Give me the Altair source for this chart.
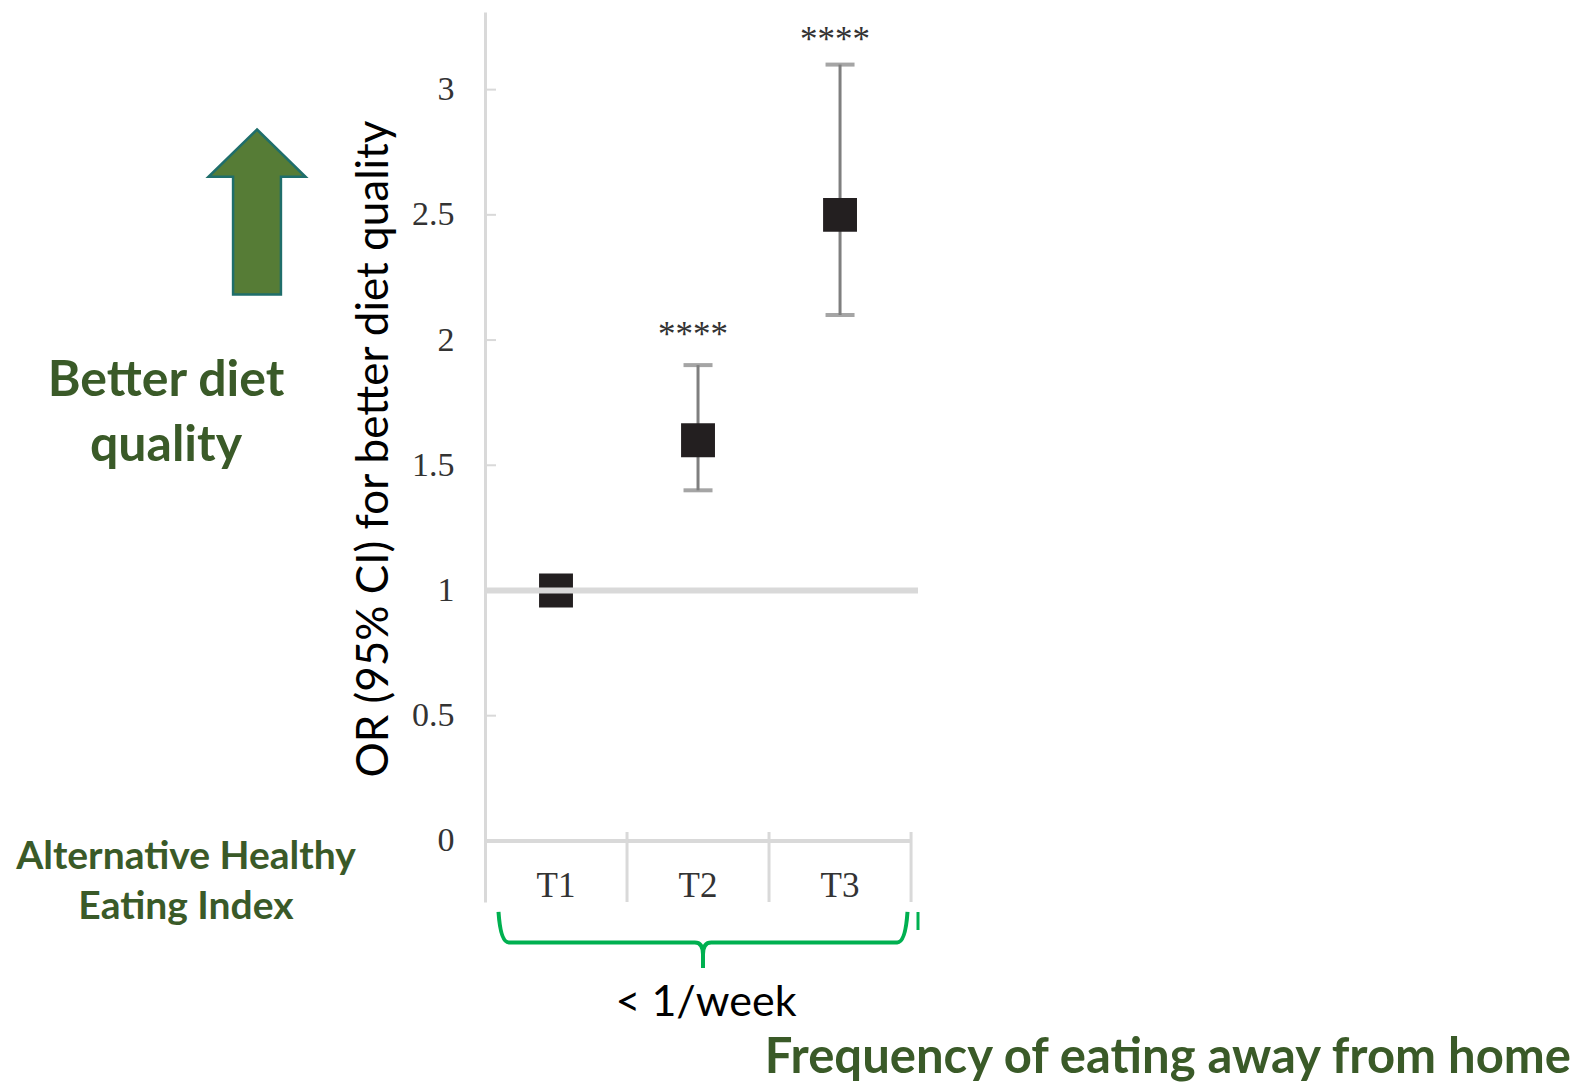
import altair as alt
import pandas as pd

# Tertiles of eating away from home (< 1/week group)
tertiles = ["T1", "T2", "T3"]
tertile_pos = [0.5, 1.5, 2.5]
odds_ratio = [1.0, 1.6, 2.5]
ci_low = [1.0, 1.4, 2.1]
ci_high = [1.0, 1.9, 3.1]
significance = ["", "****", "****"]
star_y = [None, 2.02, 3.2]

y_ticks = [0, 0.5, 1, 1.5, 2, 2.5, 3]
separators = [1, 2, 3]

pts = pd.DataFrame({"pos": tertile_pos, "label": tertiles, "or": odds_ratio,
                    "lo": ci_low, "hi": ci_high})
ci = pts[pts["lo"] != pts["hi"]]
stars = pd.DataFrame({"pos": tertile_pos, "sig": significance, "y": star_y}).dropna()
ticks = pd.DataFrame({"v": [t for t in y_ticks if t not in (0, 1)]})
seps = pd.DataFrame({"x": separators})

GRID = "#d9d9d9"
ERR = "#7f7f7f"
GREEN = "#3a5a28"
SERIF = "Liberation Serif"
SANS = "Lato"

W, H = 433, 890
xs = alt.Scale(domain=[0, 3.049], nice=False, zero=False)
ys = alt.Scale(domain=[-0.244, 3.31], nice=False, zero=False)
X = lambda f: alt.X(f, type="quantitative", scale=xs, axis=None)

yaxis = alt.Axis(values=y_ticks, format="~g", labelFont=SERIF, labelFontSize=34,
                 labelColor="#333333", labelPadding=31, ticks=False, grid=False,
                 domainColor=GRID, domainWidth=3, title=None)

base = alt.Chart(pts)

# y axis carried by an invisible layer
axis_layer = base.mark_point(opacity=0).encode(
    x=X("pos:Q"), y=alt.Y("or:Q", scale=ys, axis=yaxis))

tick_marks = alt.Chart(ticks).mark_rule(color=GRID, strokeWidth=2).encode(
    x=alt.value(0), x2=alt.value(11), y=alt.Y("v:Q", scale=ys))

baseline = alt.Chart(pd.DataFrame({"v": [0]})).mark_rule(color=GRID, strokeWidth=4).encode(
    x=alt.value(0), x2=alt.value(426), y=alt.Y("v:Q", scale=ys))

sep_lines = alt.Chart(seps).mark_rule(color=GRID, strokeWidth=3).encode(
    x=X("x:Q"), y=alt.value(820), y2=alt.value(H))

ref_line = alt.Chart(pd.DataFrame({"v": [1]})).mark_rule(color=GRID, strokeWidth=6).encode(
    x=alt.value(0), x2=alt.value(W), y=alt.Y("v:Q", scale=ys))

err = alt.Chart(ci).mark_rule(color=ERR, strokeWidth=3).encode(
    x=X("pos:Q"), y=alt.Y("lo:Q", scale=ys), y2="hi:Q")
caps_hi = alt.Chart(ci).mark_tick(color=ERR, thickness=4, size=29, orient="horizontal").encode(
    x=X("pos:Q"), y=alt.Y("hi:Q", scale=ys))
caps_lo = alt.Chart(ci).mark_tick(color=ERR, thickness=4, size=29, orient="horizontal").encode(
    x=X("pos:Q"), y=alt.Y("lo:Q", scale=ys))

squares = base.mark_point(shape="square", filled=True, size=1150, color="#231f20",
                          opacity=1).encode(x=X("pos:Q"), y=alt.Y("or:Q", scale=ys))

star_text = alt.Chart(stars).mark_text(font=SERIF, fontSize=35, color="#333333",
                                       dx=-5, baseline="middle").encode(
    x=X("pos:Q"), y=alt.Y("y:Q", scale=ys), text="sig:N")

cat_labels = base.mark_text(font=SERIF, fontSize=35, color="#333333", baseline="middle").encode(
    x=X("pos:Q"), y=alt.value(874), text="label:N")

# Decorations drawn in the margin around the plot
arrow = alt.Chart(pd.DataFrame({"k": [0]})).mark_point(
    shape="M0,-1 L0.588,-0.427 L0.29,-0.427 L0.29,1 L-0.29,1 L-0.29,-0.427 L-0.588,-0.427 Z",
    size=27225, filled=True, fill="#567c36", stroke="#1f6e6b", strokeWidth=2.5, opacity=1
).encode(x=alt.value(-228), y=alt.value(200))

brace = alt.Chart(pd.DataFrame({"k": [0]})).mark_point(
    shape=("M-1,-0.137 Q-0.99,0.012 -0.95,0.012 L-0.04,0.012 Q0,0.012 0,0.07 L0,0.137 "
           "M0,0.07 Q0,0.012 0.04,0.012 L0.95,0.012 Q0.99,0.012 1,-0.137"),
    size=167281, filled=False, stroke="#00b050", strokeWidth=4, opacity=1
).encode(x=alt.value(218), y=alt.value(928))

brace_next = alt.Chart(pd.DataFrame({"k": [0]})).mark_rule(color="#00b050", strokeWidth=3).encode(
    x=alt.value(433), y=alt.value(900), y2=alt.value(918))

def label(text, x, y, size, color, weight="normal", align="center", angle=0, font=SANS):
    return alt.Chart(pd.DataFrame({"t": [text]})).mark_text(
        font=font, fontSize=size, color=color, fontWeight=weight, align=align,
        baseline="middle", angle=angle).encode(x=alt.value(x), y=alt.value(y), text="t:N")

texts = [
    label("OR (95% CI) for better diet quality", -110, 437, 44, "#000000", angle=270),
    label("Better diet", -319, 369, 50, GREEN, "bold"),
    label("quality", -319, 434, 50, GREEN, "bold"),
    label("Alternative Healthy", -299, 845, 39, GREEN, "bold"),
    label("Eating Index", -299, 895, 39, GREEN, "bold"),
    label("< 1/week", 221, 991, 43, "#000000"),
    label("Frequency of eating away from home", 1086, 1046, 49, GREEN, "bold", align="right"),
]

chart = alt.layer(
    axis_layer, tick_marks, baseline, sep_lines, err, caps_hi, caps_lo, squares, ref_line,
    star_text, cat_labels, arrow, brace, brace_next, *texts
).properties(
    width=W, height=H,
    padding={"left": 485, "top": 12, "right": 1581 - 485 - W, "bottom": 1087 - 12 - H},
    autosize=alt.AutoSizeParams(type="none"),
).configure_view(stroke=None)

chart.save("out.html", embed_options={"renderer": "svg", "actions": False})
